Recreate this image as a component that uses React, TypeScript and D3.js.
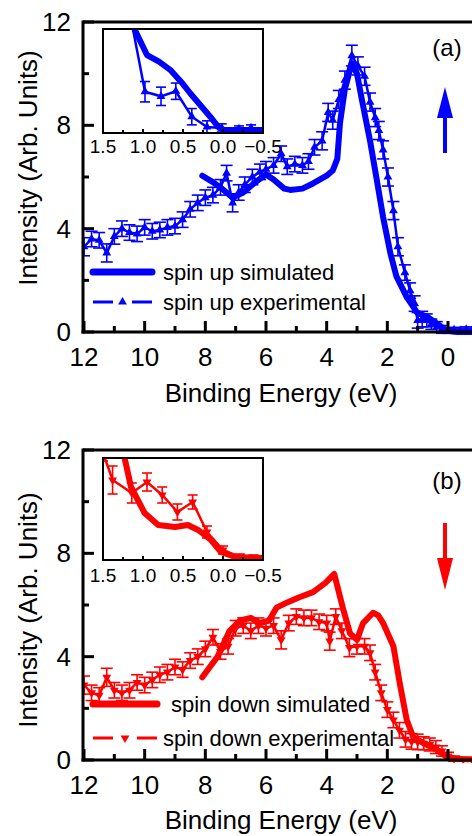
import * as d3 from 'd3';

const FONT = '"Liberation Sans", Arial, Helvetica, sans-serif';
const BLUE = '#0000ff';
const RED = '#ff0000';

const X_TICKS = [12, 10, 8, 6, 4, 2, 0];
const X_MINOR = [11, 9, 7, 5, 3, 1];
const Y_TICKS = [0, 4, 8, 12];
const Y_MINOR = [2, 6, 10];
const INSET_TICKS = [1.5, 1.0, 0.5, 0.0, -0.5];
const INSET_MINOR = [1.25, 0.75, 0.25, -0.25];

// spin up: [binding energy, intensity] and [E, I, error]
const UP_SIM: [number, number][] = [
  [8.1, 6.05], [7.75, 5.8], [7.4, 5.5], [7.1, 5.2], [6.75, 5.4], [6.4, 5.75], [6.0, 6.1],
  [5.75, 5.9], [5.4, 5.55], [5.2, 5.5], [4.8, 5.55], [4.45, 5.75], [4.0, 6.05], [3.8, 6.25],
  [3.65, 6.7], [3.56, 8.1], [3.4, 9.4], [3.17, 10.4], [3.0, 10.0], [2.84, 9.0], [2.57, 7.4],
  [2.35, 5.9], [2.14, 4.45], [1.9, 3.05], [1.7, 2.15], [1.36, 1.35], [1.0, 0.72], [0.7, 0.6],
  [0.37, 0.33], [0.05, 0.05], [-0.3, 0], [-1, 0],
];
const UP_EXP: [number, number, number][] = [
  [12.0, 3.3, 0.35], [11.75, 3.6, 0.3], [11.5, 3.55, 0.3], [11.25, 3.06, 0.35], [11.0, 3.7, 0.3],
  [10.75, 4.0, 0.3], [10.5, 3.85, 0.3], [10.25, 3.8, 0.3], [10.0, 4.05, 0.3], [9.75, 3.9, 0.3],
  [9.5, 3.95, 0.3], [9.25, 4.05, 0.3], [9.0, 4.1, 0.3], [8.75, 4.35, 0.3], [8.5, 4.75, 0.3],
  [8.25, 5.0, 0.3], [8.0, 5.2, 0.3], [7.75, 5.3, 0.3], [7.5, 5.6, 0.3], [7.3, 6.15, 0.3],
  [7.1, 5.0, 0.35], [6.9, 5.4, 0.3], [6.7, 5.7, 0.3], [6.45, 6.0, 0.3], [6.2, 6.2, 0.3],
  [6.0, 6.3, 0.3], [5.75, 6.45, 0.3], [5.5, 6.9, 0.3], [5.3, 6.4, 0.3], [5.05, 6.5, 0.3],
  [4.8, 6.45, 0.3], [4.6, 6.6, 0.3], [4.4, 7.15, 0.3], [4.15, 7.4, 0.35], [3.95, 8.5, 0.35],
  [3.8, 8.2, 0.35], [3.6, 9.0, 0.35], [3.4, 9.75, 0.35], [3.17, 10.7, 0.4], [2.97, 10.3, 0.35],
  [2.75, 9.9, 0.35], [2.57, 8.9, 0.35], [2.4, 8.3, 0.35], [2.28, 7.8, 0.35], [2.14, 7.05, 0.35],
  [1.98, 6.0, 0.35], [1.8, 4.7, 0.35], [1.65, 3.3, 0.35], [1.42, 2.3, 0.3], [1.25, 1.6, 0.3],
  [1.1, 1.1, 0.3], [1.0, 0.45, 0.3], [0.85, 0.5, 0.3], [0.7, 0.45, 0.25], [0.55, 0.3, 0.2],
  [0.37, 0.2, 0.2], [0.2, 0.1, 0.15], [0.0, 0.05, 0.1], [-0.2, 0.08, 0.1], [-0.4, 0.05, 0.1],
  [-0.6, 0.1, 0.1], [-0.8, 0.05, 0.1],
];
const UP_INSET_SIM: [number, number][] = [
  [1.2, 1.15], [0.95, 0.745], [0.8, 0.68], [0.66, 0.6], [0.5, 0.46], [0.41, 0.37], [0.16, 0.14],
  [0.06, 0.04], [0.0, 0.01], [-0.5, 0.01],
];
const UP_INSET_EXP: [number, number, number][] = [
  [1.15, 1.1, 0.08], [0.975, 0.385, 0.1], [0.775, 0.34, 0.09], [0.59, 0.39, 0.08],
  [0.39, 0.14, 0.08], [0.2, 0.04, 0.06], [0.016, 0.03, 0.04], [-0.2, 0.02, 0.03], [-0.35, 0.03, 0.03],
];

// spin down
const DOWN_SIM: [number, number][] = [
  [8.1, 3.2], [7.6, 4.0], [7.2, 5.0], [6.85, 5.4], [6.5, 5.5], [6.2, 5.3], [5.9, 5.4], [5.65, 5.9],
  [5.3, 6.1], [4.9, 6.3], [4.45, 6.5], [4.05, 6.85], [3.75, 7.2], [3.47, 5.9], [3.23, 4.9],
  [3.0, 4.65], [2.8, 5.3], [2.47, 5.7], [2.3, 5.6], [2.14, 5.3], [1.8, 4.4], [1.58, 2.9],
  [1.36, 1.55], [1.15, 0.9], [0.82, 0.66], [0.37, 0.4], [0.03, 0.1], [-0.5, 0.03], [-1, 0.03],
];
const DOWN_EXP: [number, number, number][] = [
  [12.0, 2.9, 0.35], [11.75, 2.6, 0.3], [11.5, 2.5, 0.3], [11.25, 3.2, 0.35], [11.0, 2.7, 0.3],
  [10.75, 2.6, 0.3], [10.5, 2.7, 0.3], [10.25, 3.0, 0.3], [10.0, 2.9, 0.3], [9.75, 3.1, 0.3],
  [9.5, 3.3, 0.3], [9.25, 3.4, 0.3], [9.0, 3.6, 0.3], [8.75, 3.5, 0.3], [8.5, 3.85, 0.3],
  [8.25, 4.0, 0.3], [8.0, 4.3, 0.3], [7.75, 4.75, 0.3], [7.5, 4.2, 0.3], [7.25, 4.4, 0.3],
  [7.0, 5.1, 0.3], [6.75, 5.2, 0.3], [6.5, 5.0, 0.3], [6.25, 5.2, 0.3], [6.0, 5.1, 0.3],
  [5.75, 5.2, 0.3], [5.5, 4.65, 0.35], [5.25, 5.3, 0.3], [5.0, 5.55, 0.3], [4.75, 5.5, 0.3],
  [4.5, 5.5, 0.3], [4.25, 5.35, 0.3], [4.0, 5.3, 0.3], [3.9, 4.6, 0.35], [3.7, 5.55, 0.3],
  [3.5, 5.0, 0.3], [3.25, 4.35, 0.35], [3.0, 4.4, 0.3], [2.75, 4.4, 0.3], [2.57, 4.15, 0.3],
  [2.4, 3.4, 0.3], [2.2, 2.6, 0.3], [2.0, 1.95, 0.3], [1.8, 1.55, 0.3], [1.6, 1.15, 0.3],
  [1.4, 0.8, 0.3], [1.2, 0.72, 0.3], [1.0, 0.7, 0.3], [0.8, 0.65, 0.25], [0.6, 0.6, 0.25],
  [0.4, 0.5, 0.25], [0.2, 0.35, 0.2], [0.0, 0.15, 0.15], [-0.2, 0.05, 0.1], [-0.5, 0.03, 0.05],
  [-0.8, 0.02, 0.05],
];
const DOWN_INSET_SIM: [number, number][] = [
  [1.3, 1.1], [1.23, 1.0], [1.15, 0.71], [0.98, 0.45], [0.81, 0.33], [0.6, 0.31], [0.44, 0.33],
  [0.31, 0.28], [0.15, 0.18], [0.025, 0.06], [-0.15, 0.01], [-0.5, 0.0],
];
const DOWN_INSET_EXP: [number, number, number][] = [
  [1.5, 1.05, 0.08], [1.38, 0.78, 0.14], [1.14, 0.65, 0.1], [0.95, 0.76, 0.09], [0.76, 0.63, 0.08],
  [0.57, 0.46, 0.08], [0.38, 0.56, 0.07], [0.2, 0.26, 0.06], [0.0, 0.08, 0.04], [-0.21, 0.01, 0.03],
  [-0.38, 0.0, 0.03],
];

type PanelProps = {
  id: string;
  color: string;
  yTop: number;
  yBot: number;
  sim: [number, number][];
  exp: [number, number, number][];
  insetSim: [number, number][];
  insetExp: [number, number, number][];
  inset: { x0: number; x1: number; y0: number; y1: number };
  insetLabelY: number;
  label: string;
  labelY: number;
  up: boolean;
  arrow: { base: number; head: number; tip: number };
  legend: { y1: number; y2: number; tx1: number; tx2: number; len: number };
  legendText: [string, string];
  titleY: number;
  yTitleCenter: number;
};

const X0 = 84;
const XZERO = 448;

function Panel(p: PanelProps) {
  const x = d3.scaleLinear().domain([12, 0]).range([X0, XZERO]);
  const y = d3.scaleLinear().domain([0, 12]).range([p.yBot, p.yTop]);
  const xi = d3.scaleLinear().domain([1.5, -0.5]).range([p.inset.x0, p.inset.x1]);
  const yi = d3.scaleLinear().domain([0, 1]).range([p.inset.y1 - 2, p.inset.y0]);

  const line = d3.line<number[]>().x(d => x(d[0])).y(d => y(d[1]));
  const lineI = d3.line<number[]>().x(d => xi(d[0])).y(d => yi(d[1]));
  const tri = d3.symbol().type(d3.symbolTriangle).size(34)();
  const triRot = p.up ? '' : ' rotate(180)';

  const errBars = (data: [number, number, number][], sx: any, sy: any, cap: number) =>
    data.map((d, i) => {
      const cx = sx(d[0]);
      const t = sy(d[1] + d[2]);
      const b = sy(d[1] - d[2]);
      return (
        <g key={i} stroke={p.color} strokeWidth={1.6}>
          <line x1={cx} x2={cx} y1={t} y2={b} />
          <line x1={cx - cap} x2={cx + cap} y1={t} y2={t} />
          <line x1={cx - cap} x2={cx + cap} y1={b} y2={b} />
        </g>
      );
    });
  const markers = (data: [number, number, number][], sx: any, sy: any) =>
    data.map((d, i) => (
      <path key={i} d={tri} fill={p.color} transform={`translate(${sx(d[0])},${sy(d[1])})${triRot}`} />
    ));

  const ax = 83;
  const lg = p.legend;
  const midY = (p.yTop + p.yBot) / 2;

  return (
    <g fontFamily={FONT}>
      <defs>
        <clipPath id={`main-${p.id}`}>
          <rect x={ax} y={p.yTop} width={480 - ax} height={p.yBot - p.yTop + 3} />
        </clipPath>
        <clipPath id={`inset-${p.id}`}>
          <rect x={p.inset.x0} y={p.inset.y0} width={p.inset.x1 - p.inset.x0} height={p.inset.y1 - p.inset.y0} />
        </clipPath>
      </defs>

      {/* main data */}
      <g clipPath={`url(#main-${p.id})`}>
        <path d={line(p.sim) ?? ''} fill="none" stroke={p.color} strokeWidth={6} strokeLinejoin="round" strokeLinecap="round" />
        {errBars(p.exp, x, y, 6)}
        <path d={line(p.exp.map(d => [d[0], d[1]])) ?? ''} fill="none" stroke={p.color} strokeWidth={2.5} />
        {markers(p.exp, x, y)}
      </g>

      {/* axes */}
      <line x1={ax} x2={472} y1={p.yTop} y2={p.yTop} stroke="#000" strokeWidth={3} />
      <line x1={ax} x2={ax} y1={p.yTop - 1.5} y2={p.yBot + 1.5} stroke="#000" strokeWidth={3} />
      <line x1={ax - 1.5} x2={472} y1={p.yBot} y2={p.yBot} stroke="#000" strokeWidth={3} />
      {X_TICKS.map(t => (
        <g key={t}>
          <line x1={x(t)} x2={x(t)} y1={p.yBot} y2={p.yBot - 11} stroke="#000" strokeWidth={3} />
          <text x={x(t)} y={p.yBot + 34} textAnchor="middle" fontSize={26}>{t}</text>
        </g>
      ))}
      {X_MINOR.map(t => (
        <line key={t} x1={x(t)} x2={x(t)} y1={p.yBot} y2={p.yBot - 6} stroke="#000" strokeWidth={3} />
      ))}
      {Y_TICKS.map(t => (
        <g key={t}>
          <line x1={ax} x2={ax + 11} y1={y(t)} y2={y(t)} stroke="#000" strokeWidth={3} />
          <text x={71} y={y(t) + 9} textAnchor="end" fontSize={26}>{t}</text>
        </g>
      ))}
      {Y_MINOR.map(t => (
        <line key={t} x1={ax} x2={ax + 6} y1={y(t)} y2={y(t)} stroke="#000" strokeWidth={3} />
      ))}
      <text x={281} y={p.titleY} textAnchor="middle" fontSize={26}>Binding Energy (eV)</text>
      <text transform={`translate(37,${p.yTitleCenter}) rotate(-90)`} textAnchor="middle" fontSize={26}>
        Intensity (Arb. Units)
      </text>

      {/* inset */}
      <rect x={p.inset.x0} y={p.inset.y0} width={p.inset.x1 - p.inset.x0} height={p.inset.y1 - p.inset.y0}
        fill="#fff" stroke="none" />
      <g clipPath={`url(#inset-${p.id})`}>
        <path d={lineI(p.insetSim) ?? ''} fill="none" stroke={p.color} strokeWidth={6} strokeLinejoin="round" />
        {errBars(p.insetExp, xi, yi, 5)}
        <path d={lineI(p.insetExp.map(d => [d[0], d[1]])) ?? ''} fill="none" stroke={p.color} strokeWidth={2.5} />
        {markers(p.insetExp, xi, yi)}
      </g>
      <rect x={p.inset.x0} y={p.inset.y0} width={p.inset.x1 - p.inset.x0} height={p.inset.y1 - p.inset.y0}
        fill="none" stroke="#000" strokeWidth={2} />
      {INSET_TICKS.map(t => (
        <g key={t}>
          <line x1={xi(t)} x2={xi(t)} y1={p.inset.y1} y2={p.inset.y1 - 4} stroke="#000" strokeWidth={2} />
          <text x={xi(t)} y={p.insetLabelY} textAnchor="middle" fontSize={19}>{d3.format('.1f')(t)}</text>
        </g>
      ))}
      {INSET_MINOR.map(t => (
        <line key={t} x1={xi(t)} x2={xi(t)} y1={p.inset.y1} y2={p.inset.y1 - 3} stroke="#000" strokeWidth={2} />
      ))}

      {/* panel label and spin arrow */}
      <text x={447} y={p.labelY} textAnchor="middle" fontSize={24}>{p.label}</text>
      <line x1={445} x2={445} y1={p.arrow.base} y2={p.arrow.head} stroke={p.color} strokeWidth={4} />
      <path d={`M437,${p.arrow.head}L453,${p.arrow.head}L445,${p.arrow.tip}Z`} fill={p.color} />

      {/* legend */}
      <line x1={93} x2={93 + lg.len} y1={lg.y1} y2={lg.y1} stroke={p.color} strokeWidth={7} strokeLinecap="round" />
      <text x={lg.tx1} y={lg.y1 + 8} fontSize={22}>{p.legendText[0]}</text>
      <line x1={93} x2={113} y1={lg.y2} y2={lg.y2} stroke={p.color} strokeWidth={3} />
      <line x1={93 + lg.len - 20} x2={93 + lg.len} y1={lg.y2} y2={lg.y2} stroke={p.color} strokeWidth={3} />
      <path d={tri} fill={p.color} transform={`translate(${93 + lg.len / 2},${lg.y2})${triRot}`} />
      <text x={lg.tx2} y={lg.y2 + 8} fontSize={22}>{p.legendText[1]}</text>
    </g>
  );
}

export default function App() {
  return (
    <>
      <style>{'body{margin:0}'}</style>
      <svg width={472} height={836} style={{ display: 'block', background: '#fff' }}>
        <Panel
          id="a" color={BLUE} yTop={22} yBot={332}
          sim={UP_SIM} exp={UP_EXP} insetSim={UP_INSET_SIM} insetExp={UP_INSET_EXP}
          inset={{ x0: 103, x1: 263, y0: 29, y1: 133 }} insetLabelY={153}
          label="(a)" labelY={56} up={true}
          arrow={{ base: 153, head: 118, tip: 87 }}
          legend={{ y1: 272, y2: 302, tx1: 163, tx2: 163, len: 59 }}
          legendText={['spin up simulated', 'spin up experimental']}
          titleY={402} yTitleCenter={168}
        />
        <Panel
          id="b" color={RED} yTop={450} yBot={760}
          sim={DOWN_SIM} exp={DOWN_EXP} insetSim={DOWN_INSET_SIM} insetExp={DOWN_INSET_EXP}
          inset={{ x0: 103, x1: 263, y0: 458, y1: 560 }} insetLabelY={582}
          label="(b)" labelY={489} up={false}
          arrow={{ base: 523, head: 558, tip: 590 }}
          legend={{ y1: 704, y2: 738, tx1: 171, tx2: 163, len: 64 }}
          legendText={['spin down simulated', 'spin down experimental']}
          titleY={829} yTitleCenter={610}
        />
      </svg>
    </>
  );
}
